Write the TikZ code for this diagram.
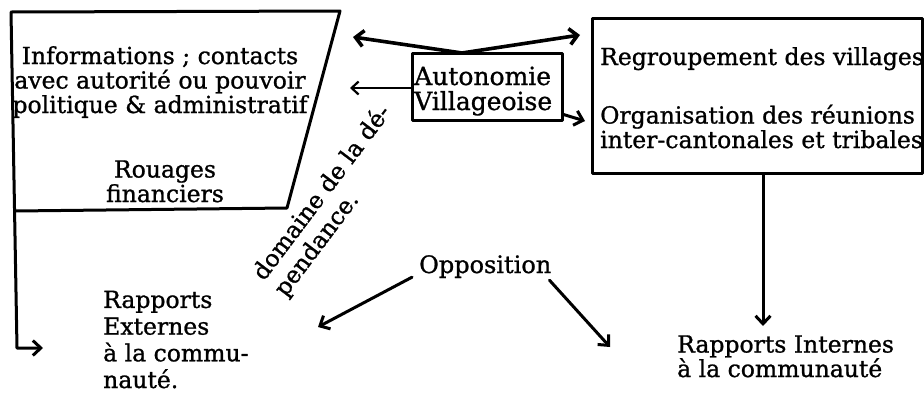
\documentclass[tikz,border=0pt]{standalone}
\usepackage{fontspec}
\setmainfont{DejaVu Serif}[FakeBold=1]
\usetikzlibrary{arrows.meta}
\begin{document}
\begin{tikzpicture}[x=1pt,y=-1pt,
  txt/.style={inner sep=0pt, font=\fontsize{23.5}{24.5}\selectfont},
  boxline/.style={draw, line width=3pt, line join=round},
  arr/.style={line width=3pt, line cap=round, -{Straight Barb[length=8pt,width=15pt]}},
  arrthick/.style={line width=3.6pt, line cap=round, -{Straight Barb[length=8pt,width=16pt]}},
  arrthin/.style={line width=2.2pt, line cap=round, -{Straight Barb[length=7pt,width=13pt]}}]
\useasboundingbox (0,0) rectangle (924,397);

% left trapezoid
\coordinate (tl) at (11,12);
\coordinate (tr) at (340,11);
\coordinate (br) at (287,208);
\coordinate (bl) at (15,211);
\coordinate (corner) at (17,348);
\coordinate (extip) at (43,348);
\draw[boxline] (bl) -- (br) -- (tr) -- (tl);
\draw[arr, line join=round] (tl) -- (corner) -- (extip);

\node[txt, align=center, anchor=base] (info) at (160,113)
  {Informations ; contacts\\avec autorité ou pouvoir\\politique \& administratif};
\node[txt, align=center, anchor=base] (rouages) at (165,202) {Rouages\\financiers};

% Autonomie box
\node[boxline, minimum width=150pt, minimum height=67pt] (auto) at (487,86.5) {};
\node[txt, align=left, anchor=base west, font=\fontsize{25}{25}\selectfont] (autotxt) at (414,110)
  {Autonomie\\Villageoise};

% right box
\node[boxline, minimum width=330pt, minimum height=155pt] (rbox) at (757,95.5) {};
\node[txt, anchor=base west] (regroup) at (600,65) {Regroupement des villages};
\node[txt, align=left, anchor=base west] (organ) at (600,148)
  {Organisation des réunions\\inter-cantonales et tribales};

% top V arrows
\coordinate (vtop) at (462,53);
\coordinate (tipA) at (353,37);
\coordinate (tipB) at (580,35);
\draw[arrthick] (vtop) -- (tipA);
\draw[arrthick] (vtop) -- (tipB);

% left thin arrow
\coordinate (tipC) at (350,88);
\draw[arrthin] (auto.west |- tipC) -- (tipC);

% bottom-right hook arrow
\coordinate (tipD) at (585,121);
\draw[arr] ([yshift=7pt]auto.south east) -- (tipD);

% vertical arrow to internal relations
\coordinate (tipE) at (763,326);
\draw[arr] (rbox.south -| tipE) -- (tipE);

% texts bottom
\node[txt, align=left, anchor=base west] (intern) at (677,377)
  {Rapports Internes\\à la communauté};
\node[txt, align=left, anchor=base west, font=\fontsize{23.5}{26.7}\selectfont] (extern) at (103,388)
  {Rapports\\Externes\\à la commu-\\nauté.};
\node[txt, anchor=base west, font=\fontsize{24}{24}\selectfont] (oppo) at (419,273) {Opposition};

\coordinate (tipL) at (318,327);
\coordinate (tipR) at (610,347);
\draw[arr] ([xshift=-7pt,yshift=1pt]oppo.south west) -- (tipL);
\draw[arr] ([xshift=-2pt,yshift=-2pt]oppo.south east) -- (tipR);

% rotated label
\node[txt, rotate=53, align=left, font=\fontsize{23.5}{27}\selectfont] (dep) at (333,201)
  {domaine de la dé-\\pendance.};
\end{tikzpicture}
\end{document}
